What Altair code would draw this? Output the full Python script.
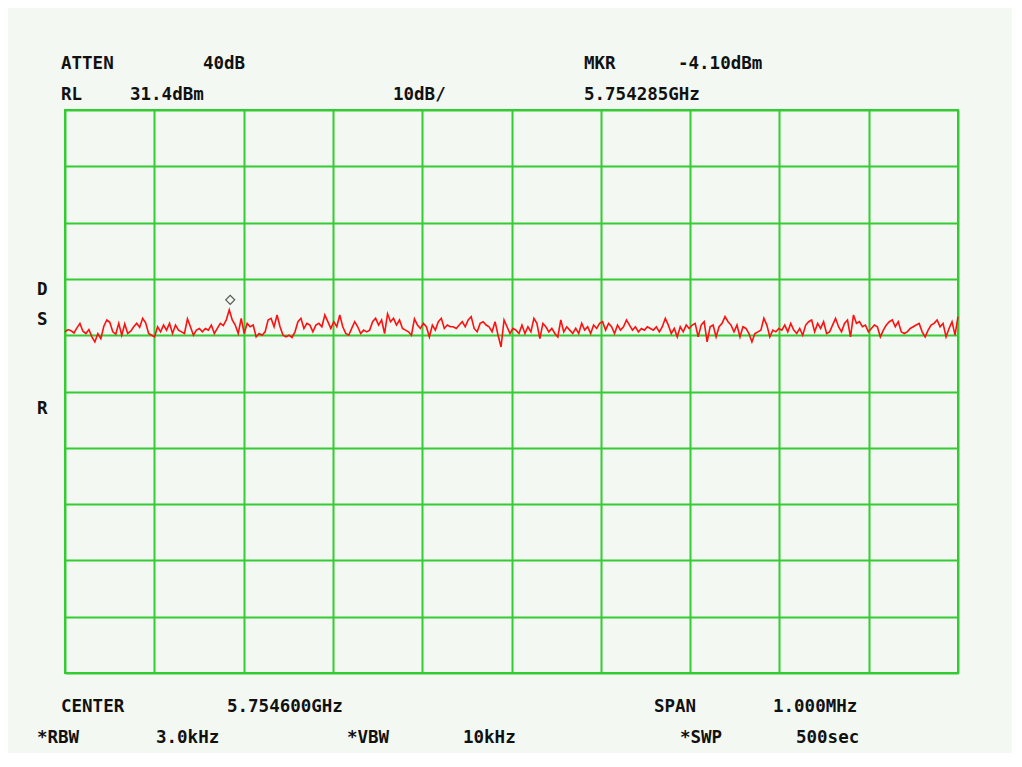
import altair as alt
import pandas as pd

# ---- instrument settings (from the screen annotations) ----
center_mhz = 5754.6
span_mhz = 1.0
ref_level_dbm = 31.4
db_per_div = 10
marker_freq_mhz = 5754.285
marker_level_dbm = -4.10

# ---- trace values (dBm), 30 points per division ----
div1 = [-8.0, -7.6, -7.8, -8.2, -7.3, -6.5, -7.9, -8.3, -7.6, -8.9, -9.8, -8.3, -9.2, -7.0, -5.9,
        -6.3, -8.0, -8.4, -6.5, -8.6, -6.6, -8.3, -7.9, -7.1, -6.5, -7.2, -5.6, -6.4, -8.3, -8.6]
div2 = [-8.9, -7.1, -8.0, -6.8, -7.7, -6.5, -8.3, -6.8, -7.7, -8.0, -8.3, -5.7, -7.1, -8.6, -7.7,
        -7.4, -8.0, -7.4, -7.7, -6.8, -8.3, -7.4, -6.5, -6.9, -5.9, -4.1, -5.9, -6.8, -8.3, -5.6]
div3 = [-8.3, -6.5, -7.1, -6.8, -8.9, -8.3, -8.6, -8.0, -5.9, -5.6, -7.1, -5.0, -7.1, -8.6, -8.9,
        -8.6, -9.0, -8.0, -6.2, -5.6, -7.4, -6.5, -6.8, -8.0, -6.8, -6.5, -7.1, -5.0, -6.2, -7.4]
div4 = [-6.2, -7.1, -5.0, -7.1, -8.3, -8.6, -7.4, -6.2, -7.1, -8.3, -7.7, -8.0, -7.7, -6.2, -5.6,
        -6.8, -5.9, -8.3, -4.8, -6.2, -5.6, -6.8, -5.9, -7.4, -7.7, -8.0, -8.6, -5.7, -6.8, -7.4]
div5 = [-6.5, -7.1, -8.9, -6.8, -7.7, -6.2, -5.6, -7.4, -6.8, -7.1, -7.1, -7.4, -6.8, -6.2, -7.1,
        -5.9, -5.3, -7.4, -8.0, -6.5, -6.2, -6.8, -7.1, -8.0, -6.2, -8.6, -10.7, -5.9, -7.1, -8.3]
div6 = [-7.4, -7.7, -8.3, -6.8, -8.3, -7.1, -8.0, -5.6, -6.5, -9.2, -6.5, -7.1, -8.0, -7.4, -8.3,
        -8.9, -5.9, -8.0, -7.1, -7.7, -8.3, -7.4, -8.3, -6.5, -7.7, -7.1, -8.3, -6.8, -7.4, -6.5]
div7 = [-6.2, -7.7, -6.5, -7.1, -8.3, -6.8, -7.7, -7.1, -5.9, -6.8, -7.7, -7.1, -8.0, -7.4, -7.7,
        -7.1, -7.4, -7.7, -7.1, -8.0, -7.1, -5.6, -6.8, -8.3, -7.4, -8.9, -7.1, -8.0, -6.8, -7.4]
div8 = [-6.8, -6.5, -8.9, -6.8, -6.2, -9.8, -7.1, -6.8, -8.9, -7.1, -6.5, -5.3, -6.2, -6.8, -8.0,
        -6.8, -8.9, -7.1, -7.4, -8.3, -9.8, -8.3, -8.0, -7.7, -5.6, -6.8, -8.9, -7.7, -8.0, -7.4]
div9 = [-7.7, -6.8, -8.0, -6.5, -7.7, -8.3, -7.4, -8.6, -6.8, -6.2, -5.9, -8.0, -6.5, -7.4, -6.2,
        -8.3, -8.0, -6.8, -5.6, -7.1, -8.0, -6.5, -5.9, -8.9, -5.0, -6.5, -6.2, -7.1, -6.8, -8.0]
div10 = [-7.4, -6.8, -7.1, -8.9, -7.7, -6.8, -6.2, -5.9, -7.1, -6.2, -8.0, -8.3, -8.0, -7.4, -7.1,
         -6.8, -6.5, -8.0, -8.9, -7.7, -6.8, -6.5, -5.9, -7.1, -6.5, -8.9, -7.4, -6.2, -8.6, -5.3]

level_dbm = div1 + div2 + div3 + div4 + div5 + div6 + div7 + div8 + div9 + div10

GREEN = "#33cc33"
RED = "#ff1010"
INK = "#111111"
BG = "#f3f8f3"
FONT = "DejaVu Sans Mono"

n = len(level_dbm)
start = center_mhz - span_mhz / 2
stop = center_mhz + span_mhz / 2
freqs = [start + span_mhz * i / (n - 1) for i in range(n)]
trace = pd.DataFrame({"freq": freqs, "level": level_dbm})
marker = pd.DataFrame({"freq": [marker_freq_mhz], "level": [marker_level_dbm]})

x_ticks = [start + span_mhz * i / 10 for i in range(11)]
y_top = ref_level_dbm
y_bottom = ref_level_dbm - 10 * db_per_div
y_ticks = [ref_level_dbm - db_per_div * i for i in range(11)]

grid_axis = dict(grid=True, labels=False, ticks=False, domain=False, title=None,
                 gridColor=GREEN, gridWidth=2, gridOpacity=1)

x_enc = alt.X("freq:Q", scale=alt.Scale(domain=[start, stop], nice=False, zero=False),
              axis=alt.Axis(values=x_ticks, **grid_axis))
y_enc = alt.Y("level:Q", scale=alt.Scale(domain=[y_bottom, y_top], nice=False, zero=False),
              axis=alt.Axis(values=y_ticks, **grid_axis))

line = alt.Chart(trace).mark_line(color=RED, strokeWidth=1.6).encode(x=x_enc, y=y_enc)

mk = alt.Chart(marker).mark_point(shape="diamond", filled=False, color=INK, size=80,
                                  strokeWidth=1.2, yOffset=-10).encode(
    x=alt.X("freq:Q"), y=alt.Y("level:Q"))


def label(text, x, y):
    return alt.Chart(alt.Data(values=[{"k": 1}])).mark_text(
        text=text, align="left", baseline="middle", font=FONT, fontSize=17.5,
        fontWeight="bold", color=INK).encode(x=alt.value(x), y=alt.value(y))


labels = [
    label("ATTEN", -4, -46), label("40dB", 138, -46),
    label("MKR", 519, -46), label("-4.10dBm", 613, -46),
    label("RL", -4, -15), label("31.4dBm", 65, -15),
    label("10dB/", 328, -15), label("5.754285GHz", 519, -15),
    label("D", -28, 180), label("S", -28, 210), label("R", -28, 299),
    label("CENTER", -4, 597), label("5.754600GHz", 162, 597),
    label("SPAN", 589, 597), label("1.000MHz", 708, 597),
    label("*RBW", -28, 628), label("3.0kHz", 91, 628),
    label("*VBW", 282, 628), label("10kHz", 398, 628),
    label("*SWP", 615, 628), label("500sec", 731, 628),
]

chart = alt.layer(line, mk, *labels).properties(
    width=893, height=563,
    autosize=alt.AutoSizeParams(type="none"),
    padding={"left": 57, "top": 102, "right": 54, "bottom": 80},
    background=BG,
).configure_view(stroke=GREEN, strokeWidth=2)

chart.save("out.html", embed_options={"renderer": "svg", "actions": False})
